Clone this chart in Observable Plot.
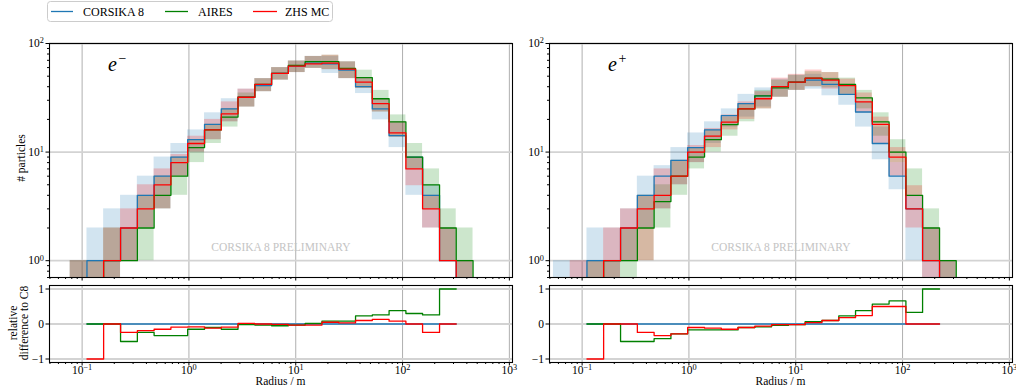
<!DOCTYPE html>
<html><head><meta charset="utf-8">
<script src="https://cdn.jsdelivr.net/npm/d3@7"></script>
<script src="https://cdn.jsdelivr.net/npm/@observablehq/plot@0.6"></script>
<style>
body{margin:0;background:#fff;}
#root{position:relative;width:1016px;height:389px;overflow:hidden;font-family:"Liberation Serif",serif;}
.pane{position:absolute;}
#overlay{position:absolute;left:0;top:0;pointer-events:none;}
</style></head><body><div id="root"></div>
<script>
// ---- data ----
const edges = [0.0539, 0.0773, 0.111, 0.159, 0.229, 0.329, 0.472, 0.678, 0.973, 1.40, 2.01, 2.88, 4.14, 5.94, 8.53, 12.25, 17.6, 25.3, 36.3, 52.1, 74.8, 107.5, 154, 222, 318, 457];
const seriesNames = ["CORSIKA 8", "AIRES", "ZHS MC"];
const seriesColors = ["#1f77b4", "#008000", "#ff0000"];
const xMajor = [0.1, 1, 10, 100, 1000];
const yMajorMain = [1, 10, 100];
const yTicksRel = [-1, 0, 1];
const watermark = "CORSIKA 8 PRELIMINARY";

// e- panel
const eMinusC8     = [0, 0.5, 1, 1, 2, 4, 6, 9, 13, 18, 25, 32, 41, 53, 62, 66, 65, 57, 40, 25, 14.2, 9, 4, 1, 0.5];
const eMinusC8Lo   = [null, 0, 0, 0, 1, 2, 3, 6, 10, 13, 19, 26, 36, 46, 54, 59, 53, 47.5, 34.6, 19.8, 11, 4, 2, 1, 0];
const eMinusC8Hi   = [null, 1, 2, 3, 4, 6, 9, 12, 16, 23, 31, 38, 47.5, 60, 69, 76, 76, 67.8, 48, 31, 19, 9, 5, 2, 1];
const eMinusAires   = [0, 0.5, 0.5, 1, 1, 2, 4, 6, 11, 16, 21, 32, 42, 53, 63, 68, 68, 59, 48.6, 31, 19, 9, 5, 2, 1];
const eMinusAiresLo = [null, 0, 0, 0, 1, 1, 3, 4, 8, 12, 17, 26, 36, 46, 54, 59, 57.5, 47.5, 38.5, 23.4, 13.7, 7, 3, 1, 0];
const eMinusAiresHi = [null, 1, 1, 2, 2, 4, 6, 9, 13, 18, 25, 35, 47.5, 60, 69, 76, 78, 67.8, 56.8, 37, 22, 12, 7, 3, 2];
const eMinusZhs   = [0, 0.5, 0.5, 1, 2, 3, 5, 8, 12, 16, 22.5, 32, 42, 53, 62, 65, 66, 58, 44, 28, 15, 7, 3, 1, 0.5];
const eMinusZhsLo = [null, 0, 0, 0, 1, 2, 3, 6, 10, 13, 19, 26, 36, 46, 54, 59, 57.5, 47.5, 38.5, 23.4, 13.7, 4.9, 2, 1, 0];
const eMinusZhsHi = [null, 1, 1, 2, 3, 5, 7, 9.5, 14, 20, 29, 38, 47.5, 60, 69, 76, 78, 67.8, 48, 31, 19, 9, 4, 2, 1];
const eMinusC8Rel    = [null, null, 0, 0, 0, 0, 0, 0, 0, 0, 0, 0, 0, 0, 0, 0, 0, 0, 0, 0, 0, 0, 0, 0, null];
const eMinusAiresRel = [null, null, 0, 0, -0.5, -0.24, -0.33, -0.33, -0.15, -0.1, -0.15, -0.02, -0.03, -0.05, -0.03, 0.02, 0.08, 0.08, 0.23, 0.26, 0.38, 0.3, 0.26, 1.0, null];
const eMinusZhsRel   = [null, null, -1, 0, -0.24, -0.19, -0.15, -0.09, -0.08, -0.12, -0.09, 0.02, 0, -0.01, -0.03, -0.03, 0.05, 0.03, 0.1, 0.13, 0.08, 0, -0.24, 0, null];

// e+ panel
const ePlusC8     = [0.5, 0.5, 1, 1, 2, 4, 6, 8.4, 11, 16, 21.7, 28, 33, 40, 44, 46, 42, 34, 23.4, 12, 6, 3, 1, 0.5, 0];
const ePlusC8Lo   = [0, 0, 0, 0, 1, 2, 3, 5, 8, 12, 17, 21, 26, 32, 37, 38, 33, 27, 17, 8.5, 4.5, 1, 0, 0, null];
const ePlusC8Hi   = [1, 1, 2, 2, 3, 6, 7.5, 11, 15, 19, 25, 34, 39, 47, 51, 52, 48, 40, 29, 17, 8, 4, 2, 1, null];
const ePlusAires   = [0, 0, 0.5, 1, 1, 2, 3.5, 6, 9, 13, 17.9, 25, 33, 39, 44, 48, 47, 42, 31.6, 19, 10, 4, 2, 1, 0];
const ePlusAiresLo = [null, null, 0, 0, 0, 1, 2, 4, 7, 10, 14, 19, 25, 32, 37, 40, 39, 34, 25, 14, 8, 4, 1, 0, null];
const ePlusAiresHi = [null, null, 1, 1, 2, 4, 5, 8.4, 11, 16, 21, 28, 37, 46, 51, 55, 54, 48, 37, 23, 13, 7, 3, 1, null];
const ePlusZhs   = [0, 0.5, 0.5, 1, 2, 3, 4, 6, 10, 14, 18.9, 25, 31, 40, 44, 48, 46, 41, 29, 18, 9, 3, 1, 0.5, 0];
const ePlusZhsLo = [null, 0, 0, 0, 1, 1, 3, 5, 8, 11, 16, 20, 25, 32, 37, 40, 38, 34, 23, 12, 6, 2, 0, 0, null];
const ePlusZhsHi = [null, 1, 1, 2, 3, 4, 7, 8.4, 11.5, 16.5, 22, 29, 36, 48, 52, 57, 54, 47, 35, 21, 11, 4.9, 2, 1, null];
const ePlusC8Rel    = [null, null, 0, 0, 0, 0, 0, 0, 0, 0, 0, 0, 0, 0, 0, 0, 0, 0, 0, 0, 0, 0, 0, null, null];
const ePlusAiresRel = [null, null, 0, 0, -0.5, -0.5, -0.42, -0.28, -0.17, -0.17, -0.17, -0.1, -0.08, -0.04, -0.02, 0.07, 0.1, 0.23, 0.38, 0.57, 0.66, 0.33, 1.0, null, null];
const ePlusZhsRel   = [null, null, -1, 0, 0, -0.24, -0.33, -0.28, -0.1, -0.12, -0.15, -0.1, -0.06, -0.02, -0.02, 0.04, 0.1, 0.18, 0.24, 0.5, 0.5, 0, 0, null, null];

// ---- helpers ----
const FLOOR = 0.1;
const XDOMAIN = [0.0495, 1070];
const xMinor = [];
[0.01, 0.1, 1, 10, 100].forEach(d => { for (let k = 2; k <= 9; k++) { const v = k * d; if (v >= XDOMAIN[0] && v <= XDOMAIN[1]) xMinor.push(v); } });
const yMinorMain = [];
[0.1, 1, 10].forEach(d => { for (let k = 2; k <= 9; k++) { const v = k * d; if (v >= 0.7 && v <= 100) yMinorMain.push(v); } });

const supFmt = d => { const e = Math.round(Math.log10(d)); return "10^" + (e < 0 ? "\u2212" + (-e) : String(e)); };
const minusFmt = d => d < 0 ? "\u2212" + (-d) : String(d);
const FONT = '"Liberation Serif", serif';
const blank = () => "";

function supify(svg) {
  svg.querySelectorAll("text").forEach(t => {
    const m = t.textContent.match(/^10\^(.+)$/);
    if (m) {
      t.textContent = "10";
      const ts = document.createElementNS("http://www.w3.org/2000/svg", "tspan");
      ts.setAttribute("dy", "-0.45em");
      ts.setAttribute("font-size", "0.72em");
      ts.textContent = m[1];
      t.appendChild(ts);
    }
  });
  return svg;
}

function mainPanel(series) {
  const marks = [
    Plot.gridX(xMajor, {stroke: "#b0b0b0", strokeOpacity: 1, strokeWidth: 1}),
    Plot.gridY(yMajorMain, {stroke: "#d3d3d3", strokeOpacity: 1, strokeWidth: 1.8}),
    Plot.text([watermark], {frameAnchor: "bottom", dy: -30, lineAnchor: "middle", fill: "#c4c4c4", fontSize: 11.5})
  ];
  series.forEach(s => {
    const bands = [];
    s.lo.forEach((lo, j) => {
      if (lo != null && s.hi[j] != null) bands.push({x1: edges[j], x2: edges[j + 1], y1: Math.max(lo, FLOOR), y2: s.hi[j]});
    });
    marks.push(Plot.rect(bands, {x1: "x1", x2: "x2", y1: "y1", y2: "y2", fill: s.color, fillOpacity: 0.2, clip: true}));
  });
  series.forEach(s => {
    const pts = s.mean.map((v, j) => ({x: edges[j], y: Math.max(v, FLOOR)}));
    pts.push({x: edges[s.mean.length], y: FLOOR});
    marks.push(Plot.line(pts, {x: "x", y: "y", stroke: s.color, strokeWidth: 1.3, curve: "step-after", clip: true}));
  });
  marks.push(
    Plot.axisY(yMajorMain, {tickSize: 3.5, tickPadding: 2, tickFormat: supFmt, label: null, fontSize: 11.5}),
    Plot.axisY(yMinorMain, {tickSize: 2, tickFormat: blank, label: null}),
    Plot.axisX(xMajor, {tickSize: 3.5, tickFormat: blank, label: null}),
    Plot.axisX(xMinor, {tickSize: 2, tickFormat: blank, label: null}),
    Plot.frame({stroke: "#000", strokeWidth: 1.1})
  );
  return supify(Plot.plot({
    width: 516, height: 252, marginLeft: 49, marginRight: 4, marginTop: 13, marginBottom: 5,
    x: {type: "log", domain: XDOMAIN, axis: null},
    y: {type: "log", domain: [0.7, 100], axis: null},
    style: {fontFamily: FONT, fontSize: "11.5px", background: "transparent", overflow: "visible", color: "#000"},
    marks
  }));
}

function relPanel(series) {
  const marks = [
    Plot.gridX(xMajor, {stroke: "#b0b0b0", strokeOpacity: 1, strokeWidth: 1}),
    Plot.gridY(yTicksRel, {stroke: "#d3d3d3", strokeOpacity: 1, strokeWidth: 1.8})
  ];
  series.forEach(s => {
    const pts = [];
    let last = -1;
    s.rel.forEach((v, j) => { if (v != null) { pts.push({x: edges[j], y: v}); last = j; } });
    pts.push({x: edges[last + 1], y: s.rel[last]});
    marks.push(Plot.line(pts, {x: "x", y: "y", stroke: s.color, strokeWidth: 1.3, curve: "step-after", clip: true}));
  });
  marks.push(
    Plot.axisY(yTicksRel, {tickSize: 3.5, tickPadding: 2, tickFormat: minusFmt, label: null, fontSize: 11.5}),
    Plot.axisX(xMajor, {tickSize: 3.5, tickPadding: 0, tickFormat: supFmt, label: null, fontSize: 11.5}),
    Plot.axisX(xMinor, {tickSize: 2, tickFormat: blank, label: null}),
    Plot.frame({stroke: "#000", strokeWidth: 1.1})
  );
  return supify(Plot.plot({
    width: 516, height: 109, marginLeft: 49, marginRight: 4, marginTop: 5, marginBottom: 27,
    x: {type: "log", domain: XDOMAIN, axis: null},
    y: {domain: [-1.1, 1.1], axis: null},
    style: {fontFamily: FONT, fontSize: "11.5px", background: "transparent", overflow: "visible", color: "#000"},
    marks
  }));
}

const root = document.getElementById("root");
function place(el, left, top) {
  const d = document.createElement("div");
  d.className = "pane"; d.style.left = left + "px"; d.style.top = top + "px";
  d.appendChild(el); root.appendChild(d);
}

const mk = (m, lo, hi, i) => ({mean: m, lo, hi, color: seriesColors[i]});
place(mainPanel([mk(eMinusC8, eMinusC8Lo, eMinusC8Hi, 0), mk(eMinusAires, eMinusAiresLo, eMinusAiresHi, 1), mk(eMinusZhs, eMinusZhsLo, eMinusZhsHi, 2)]), 0, 30);
place(mainPanel([mk(ePlusC8, ePlusC8Lo, ePlusC8Hi, 0), mk(ePlusAires, ePlusAiresLo, ePlusAiresHi, 1), mk(ePlusZhs, ePlusZhsLo, ePlusZhsHi, 2)]), 500, 30);
place(relPanel([{rel: eMinusC8Rel, color: seriesColors[0]}, {rel: eMinusAiresRel, color: seriesColors[1]}, {rel: eMinusZhsRel, color: seriesColors[2]}]), 0, 280);
place(relPanel([{rel: ePlusC8Rel, color: seriesColors[0]}, {rel: ePlusAiresRel, color: seriesColors[1]}, {rel: ePlusZhsRel, color: seriesColors[2]}]), 500, 280);

// ---- overlay texts & legend ----
const NS = "http://www.w3.org/2000/svg";
const ov = document.createElementNS(NS, "svg");
ov.setAttribute("id", "overlay"); ov.setAttribute("width", 1016); ov.setAttribute("height", 389);
ov.setAttribute("font-family", FONT);
function el(tag, attrs, text) {
  const e = document.createElementNS(NS, tag);
  for (const k in attrs) e.setAttribute(k, attrs[k]);
  if (text != null) e.textContent = text;
  ov.appendChild(e); return e;
}
// legend
el("rect", {x: 47.5, y: 1.5, width: 285, height: 20, rx: 3, fill: "#fff", stroke: "#cccccc", "stroke-width": 1});
const legX = [[51, 73, 83], [165, 188, 198], [253, 277, 285]];
seriesNames.forEach((n, i) => {
  el("line", {x1: legX[i][0], x2: legX[i][1], y1: 11.5, y2: 11.5, stroke: seriesColors[i], "stroke-width": 1.3});
  el("text", {x: legX[i][2], y: 15.8, "font-size": 12, fill: "#000"}, n);
});
// axis labels
el("text", {transform: "translate(24.5,158) rotate(-90)", "text-anchor": "middle", "font-size": 11.5}, "# particles");
el("text", {transform: "translate(16.5,323) rotate(-90)", "text-anchor": "middle", "font-size": 11.5}, "relative");
el("text", {transform: "translate(27.5,323) rotate(-90)", "text-anchor": "middle", "font-size": 11.5}, "difference to C8");
el("text", {x: 280.5, y: 385, "text-anchor": "middle", "font-size": 11.5}, "Radius / m");
el("text", {x: 780.5, y: 385, "text-anchor": "middle", "font-size": 11.5}, "Radius / m");
// particle labels
const pl = (x, sign) => {
  const t = el("text", {x, y: 71, "font-size": 20, "font-style": "italic"}, "e");
  const s = document.createElementNS(NS, "tspan");
  s.setAttribute("dy", -8); s.setAttribute("dx", 1.5); s.setAttribute("font-size", 14); s.setAttribute("font-style", "normal");
  s.textContent = sign; t.appendChild(s);
};
pl(108, "\u2212");
pl(608, "+");
root.appendChild(ov);
</script>
</body></html>
